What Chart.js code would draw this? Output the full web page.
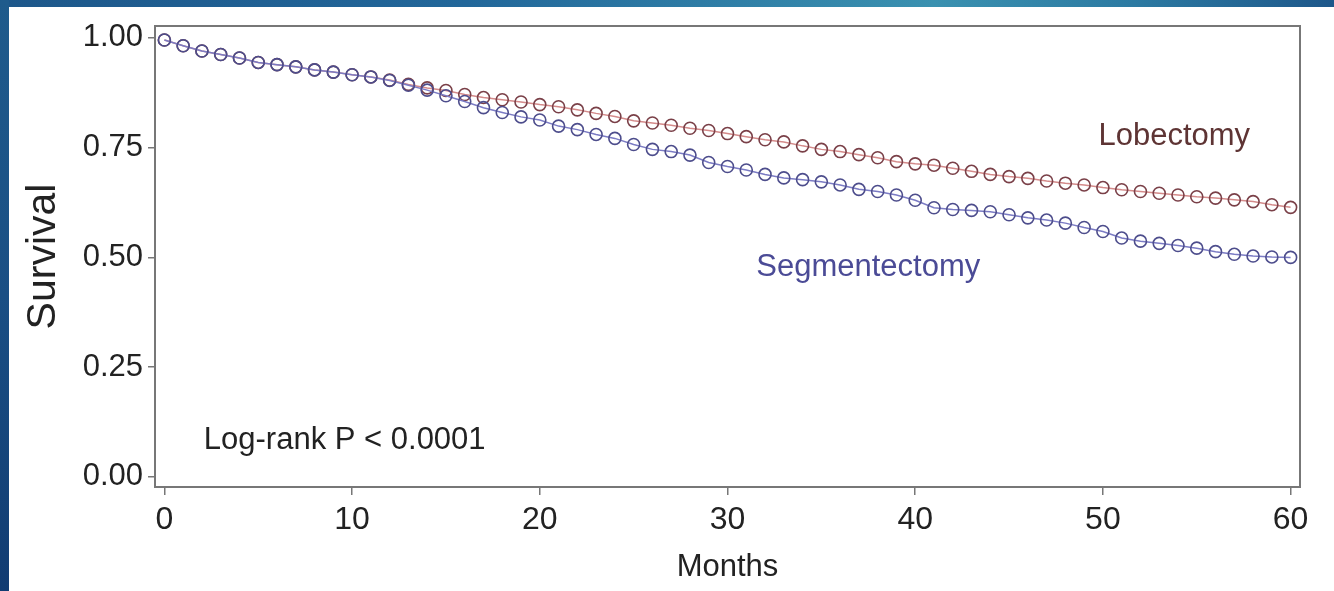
<!DOCTYPE html>
<html>
<head>
<meta charset="utf-8">
<script src="https://cdn.jsdelivr.net/npm/chart.js@4/dist/chart.umd.min.js"></script>
<style>
  html, body { margin: 0; padding: 0; background: #fff; overflow: hidden; }
  #topbar { position: absolute; left: 0; top: 0; width: 1334px; height: 7px;
    background: linear-gradient(to right, #1d578a 0%, #22679a 35%, #3a91b0 70%, #2c7aa2 85%, #1d578a 100%); }
  #leftbar { position: absolute; left: 0; top: 0; width: 9px; height: 591px;
    background: linear-gradient(to bottom, #1f5b8c 0%, #1a4f84 50%, #113c72 100%); }
  #chart { position: absolute; left: 0; top: 0; }
</style>
</head>
<body>
<div id="topbar"></div>
<div id="leftbar"></div>
<canvas id="chart" width="1334" height="591"></canvas>
<script>
// months of follow-up, one marker per month
const months = [0, 1, 2, 3, 4, 5, 6, 7, 8, 9, 10, 11, 12, 13, 14, 15, 16, 17, 18, 19, 20,
  21, 22, 23, 24, 25, 26, 27, 28, 29, 30, 31, 32, 33, 34, 35, 36, 37, 38, 39, 40,
  41, 42, 43, 44, 45, 46, 47, 48, 49, 50, 51, 52, 53, 54, 55, 56, 57, 58, 59, 60];

const lobectomy = [0.995, 0.982, 0.970, 0.962, 0.954, 0.944, 0.939, 0.934, 0.927, 0.922, 0.916,
  0.911, 0.904, 0.894, 0.886, 0.880, 0.871, 0.864, 0.859, 0.854, 0.848,
  0.843, 0.836, 0.828, 0.821, 0.811, 0.806, 0.801, 0.794, 0.789, 0.782,
  0.775, 0.768, 0.763, 0.754, 0.746, 0.741, 0.734, 0.727, 0.718, 0.713,
  0.710, 0.703, 0.696, 0.689, 0.684, 0.680, 0.674, 0.669, 0.665, 0.659,
  0.654, 0.650, 0.646, 0.642, 0.638, 0.635, 0.631, 0.627, 0.620, 0.614];

const segmentectomy = [0.995, 0.982, 0.970, 0.962, 0.954, 0.944, 0.939, 0.934, 0.927, 0.922, 0.916,
  0.911, 0.903, 0.892, 0.881, 0.868, 0.855, 0.841, 0.830, 0.820, 0.813,
  0.799, 0.791, 0.780, 0.771, 0.757, 0.746, 0.741, 0.733, 0.716, 0.707,
  0.699, 0.689, 0.681, 0.677, 0.672, 0.665, 0.655, 0.650, 0.642, 0.630,
  0.613, 0.609, 0.607, 0.604, 0.597, 0.590, 0.585, 0.578, 0.568, 0.559,
  0.544, 0.537, 0.532, 0.527, 0.521, 0.513, 0.507, 0.503, 0.501, 0.500];

const xTicks = [0, 10, 20, 30, 40, 50, 60];
const yTicks = [0, 0.25, 0.5, 0.75, 1.0];

// text placed inside the plot, in data coordinates
const notes = [
  { text: 'Lobectomy', x: 53.8, y: 0.775, color: '#5e3434', align: 'center' },
  { text: 'Segmentectomy', x: 37.5, y: 0.478, color: '#4b4b96', align: 'center' },
  { text: 'Log-rank P < 0.0001', x: 2.1, y: 0.084, color: '#222', align: 'left' },
];

const FONT = "'Liberation Sans', Arial, sans-serif";

const toPoints = (vals) => months.map((m, i) => ({ x: m, y: vals[i] }));

// box around the plot area plus the text notes
const framePlugin = {
  id: 'frame',
  afterDatasetsDraw(chart) {
    const { ctx, chartArea: a, scales } = chart;
    ctx.save();
    ctx.strokeStyle = '#777';
    ctx.lineWidth = 2;
    ctx.strokeRect(a.left, a.top, a.right - a.left, a.bottom - a.top);
    ctx.font = '31px ' + FONT;
    ctx.textBaseline = 'middle';
    notes.forEach(n => {
      ctx.fillStyle = n.color;
      ctx.textAlign = n.align;
      ctx.fillText(n.text, scales.x.getPixelForValue(n.x), scales.y.getPixelForValue(n.y));
    });
    ctx.restore();
  }
};

new Chart(document.getElementById('chart'), {
  type: 'line',
  data: {
    datasets: [
      {
        label: 'Segmentectomy',
        data: toPoints(segmentectomy),
        borderColor: '#7b7bc4',
        borderWidth: 1.5,
        pointStyle: 'circle',
        pointRadius: 6,
        pointBorderWidth: 1.6,
        pointBorderColor: '#4d4d8c',
        pointBackgroundColor: 'rgba(255,255,255,0)',
        tension: 0,
      },
      {
        label: 'Lobectomy',
        data: toPoints(lobectomy),
        borderColor: '#d48a8a',
        borderWidth: 1.5,
        pointStyle: 'circle',
        pointRadius: 6,
        pointBorderWidth: 1.6,
        pointBorderColor: '#7a4048',
        pointBackgroundColor: 'rgba(255,255,255,0)',
        tension: 0,
      },
    ],
  },
  options: {
    responsive: false,
    animation: false,
    layout: { padding: { left: 0, top: 26, right: 34, bottom: 0 } },
    plugins: {
      legend: { display: false },
      tooltip: { enabled: false },
    },
    scales: {
      x: {
        type: 'linear',
        min: -0.5,
        max: 60.5,
        afterBuildTicks: (scale) => { scale.ticks = xTicks.map(v => ({ value: v })); },
        afterFit: (scale) => { scale.height = 104; },
        border: { display: false },
        grid: { drawOnChartArea: false, drawTicks: true, tickLength: 8, color: '#777', lineWidth: 1.5 },
        ticks: { color: '#222', font: { family: FONT, size: 32 }, padding: 6, maxRotation: 0 },
        title: { display: true, text: 'Months', color: '#222', font: { family: FONT, size: 31 }, padding: { top: 0, bottom: 5 } },
      },
      y: {
        type: 'linear',
        min: -0.023,
        max: 1.027,
        afterBuildTicks: (scale) => { scale.ticks = yTicks.map(v => ({ value: v })); },
        afterFit: (scale) => { scale.width = 155; },
        border: { display: false },
        grid: { drawOnChartArea: false, drawTicks: true, tickLength: 7, color: '#777', lineWidth: 1.5 },
        ticks: { color: '#222', font: { family: FONT, size: 31 }, padding: 5, callback: (v) => Number(v).toFixed(2) },
        title: { display: true, text: 'Survival', color: '#222', font: { family: FONT, size: 41 }, padding: { top: 19, bottom: 0 } },
      },
    },
  },
  plugins: [framePlugin],
});
</script>
</body>
</html>
